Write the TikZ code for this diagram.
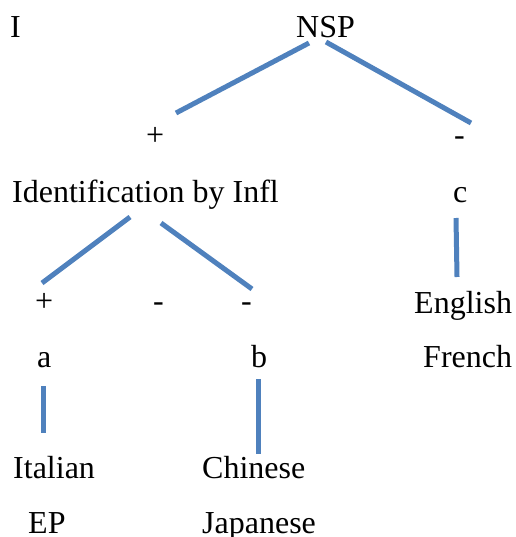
\documentclass[tikz,border=0pt]{standalone}
\usepackage{fontspec}
\setmainfont{Liberation Serif}
\definecolor{branch}{RGB}{79,129,189}
\begin{document}
\begin{tikzpicture}[x=1pt,y=-1pt,
  lbl/.style={anchor=base west,inner sep=0pt,font=\fontsize{32}{38}\selectfont},
  edge/.style={draw=branch,line width=5pt}]
\useasboundingbox (0,0) rectangle (515,537);
% labels
\node[lbl] (I) at (10,38) {I};
\node[lbl] (nsp) at (296,38) {NSP};
\node[lbl] (p1) at (146,146) {+};
\node[lbl] (m1) at (454,146) {-};
\node[lbl] (idf) at (12,203) {Identification by Infl};
\node[lbl] (c) at (453,203) {c};
\node[lbl] (p2) at (35,311) {+};
\node[lbl] (m2) at (153,311) {-};
\node[lbl] (m3) at (241,311) {-};
\node[lbl] (eng) at (414,313) {English};
\node[lbl] (a) at (37,367) {a};
\node[lbl] (b) at (251,367) {b};
\node[lbl] (fr) at (423,367) {French};
\node[lbl] (it) at (13,478) {Italian};
\node[lbl] (ch) at (202,478) {Chinese};
\node[lbl] (ep) at (28,533) {EP};
\node[lbl] (jp) at (202,533) {Japanese};
% branch end points
\coordinate (n1a) at (309,43);  \coordinate (n1b) at (176,113);
\coordinate (n2a) at (326,42);  \coordinate (n2b) at (471,123);
\coordinate (i1a) at (130,217); \coordinate (i1b) at (42,283);
\coordinate (i2a) at (161,223); \coordinate (i2b) at (252,289);
\coordinate (c1a) at (456,218); \coordinate (c1b) at (457,277);
\coordinate (a1a) at (43,386);  \coordinate (a1b) at (43,433);
\coordinate (b1a) at (258,379); \coordinate (b1b) at (258,454);
% branches
\draw[edge] (n1a) -- (n1b);
\draw[edge] (n2a) -- (n2b);
\draw[edge] (i1a) -- (i1b);
\draw[edge] (i2a) -- (i2b);
\draw[edge] (c1a) -- (c1b);
\draw[edge] (a1a) -- (a1b);
\draw[edge] (b1a) -- (b1b);
\end{tikzpicture}
\end{document}
